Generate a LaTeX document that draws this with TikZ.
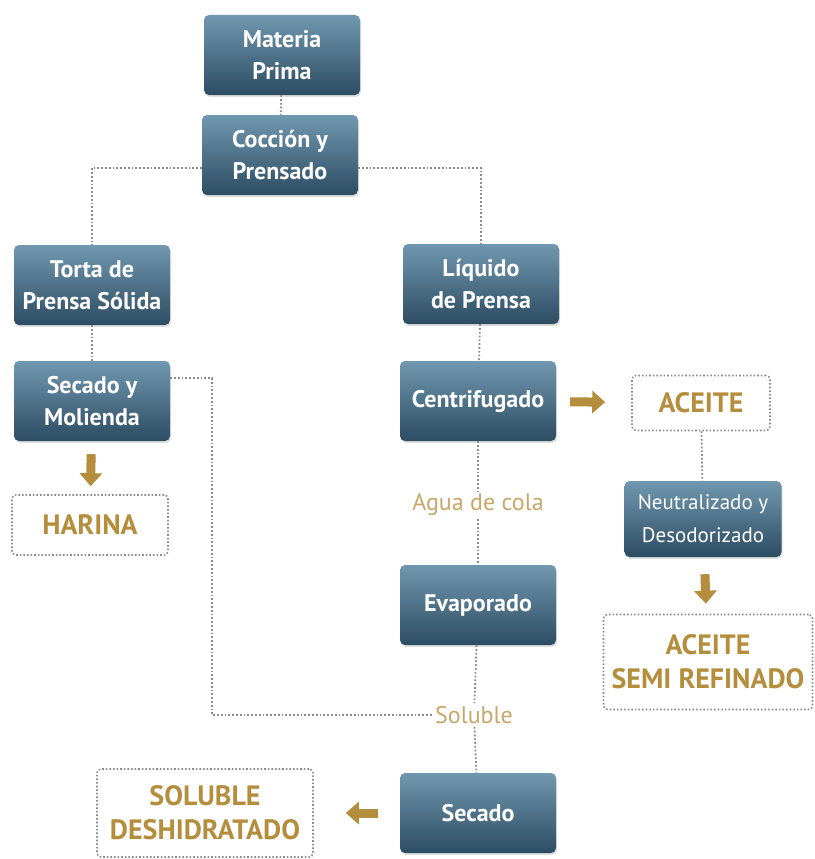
\documentclass[tikz,border=0pt]{standalone}
\usepackage{fontspec}
\setmainfont{PT Sans}
\usepackage{xcolor}
\usepackage{tikz}
\usetikzlibrary{arrows.meta,shadows}

\definecolor{cajaarriba}{HTML}{7198B0}
\definecolor{cajaabajo}{HTML}{2C4C62}
\definecolor{oro}{HTML}{B48E3C}
\definecolor{orosuave}{HTML}{C8A86A}
\definecolor{punto}{HTML}{8C8C8C}

\tikzset{
  caja/.style={rectangle,rounded corners=5pt,top color=cajaarriba,bottom color=cajaabajo,
    minimum width=156pt,minimum height=80pt,align=center,text=white,
    font=\fontsize{24}{32}\selectfont\bfseries,
    drop shadow={shadow xshift=1pt,shadow yshift=-2pt,opacity=0.25}},
  producto/.style={rectangle,rounded corners=4pt,draw=punto,dotted,line width=1.6pt,
    align=center,text=oro,font=\fontsize{28}{34}\selectfont\bfseries},
  etiqueta/.style={text=orosuave,font=\fontsize{24}{30}\selectfont,fill=white,inner sep=3pt},
  linea/.style={draw=punto,dotted,line width=1.8pt},
  flecha/.style={draw=oro,line width=9pt,-{Triangle[width=22pt,length=13pt]}}
}

\begin{document}
\begin{tikzpicture}[x=1pt,y=-1pt]
\useasboundingbox (0,0) rectangle (814,859);
% cajas de proceso
\node (materia) at (282,55) [caja] {Materia\\Prima};
\node (coccion) at (280,155) [caja] {Cocción y\\Prensado};
\node (torta) at (92,285) [caja] {Torta de\\Prensa Sólida};
\node (liquido) at (481,284) [caja] {Líquido\\de Prensa};
\node (molienda) at (92,401) [caja] {Secado y\\Molienda};
\node (centri) at (478,401) [caja] {Centrifugado};
\node (neutra) at (703,519) [caja,minimum width=157pt,minimum height=76pt,font=\fontsize{21}{33}\selectfont] {Neutralizado y\\Desodorizado};
\node (evapora) at (478,605) [caja] {Evaporado};
\node (secado) at (478,813) [caja] {Secado};
% productos
\node (aceite) at (701,403) [producto,minimum width=138pt,minimum height=55pt] {ACEITE};
\node (harina) at (90,525) [producto,minimum width=156pt,minimum height=60pt] {HARINA};
\node (semi) at (708,662) [producto,minimum width=209pt,minimum height=95pt] {ACEITE\\SEMI REFINADO};
\node (deshidra) at (205,813) [producto,minimum width=216pt,minimum height=88pt] {SOLUBLE\\DESHIDRATADO};
% etiquetas
\node (agua) at (478,505) [etiqueta] {Agua de cola};
\node (soluble) at (474,715) [etiqueta] {Soluble};
\coordinate (esqmol) at (212,378);
% lineas
\draw[linea] (materia) -- (coccion);
\draw[linea] (coccion.west |- 0,168) -| (torta);
\draw[linea] (coccion.east |- 0,168) -| (liquido);
\draw[linea] (torta) -- (molienda);
\draw[linea] (liquido) -- (centri);
\draw[linea] (centri) -- (agua);
\draw[linea] (agua) -- (evapora);
\draw[linea] (evapora) -- (soluble);
\draw[linea] (soluble) -- (secado);
\draw[linea] (aceite) -- (neutra);
\draw[linea] (molienda.east |- esqmol) -- (esqmol) |- (soluble);
% flechas
\draw[flecha,shorten <=14pt,shorten >=26pt] (centri) -- (aceite);
\draw[flecha,shorten <=13pt,shorten >=8pt] (molienda) -- (harina);
\draw[flecha,shorten <=17pt,shorten >=10pt] (neutra) -- (semi);
\draw[flecha,shorten <=22pt,shorten >=32pt] (secado) -- (deshidra);
\end{tikzpicture}
\end{document}
